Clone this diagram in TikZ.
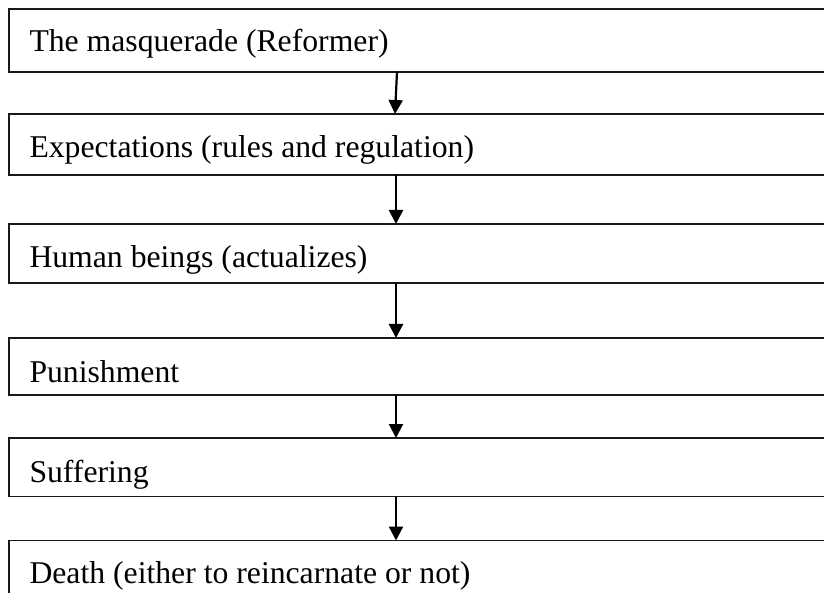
\documentclass[tikz,border=0pt]{standalone}
\usepackage{fontspec}
\setmainfont{Liberation Serif}
\usetikzlibrary{arrows.meta}
\begin{document}
\begin{tikzpicture}[x=1pt,y=-1pt,
  box/.style={draw=black!90, line width=1.3pt, rectangle, inner sep=0pt, outer sep=0pt, anchor=north west, minimum width=831pt},
  lbl/.style={inner sep=0pt, outer sep=0pt, anchor=base west, font=\fontsize{31.7pt}{38pt}\selectfont},
  arr/.style={line width=2.2pt, -{Triangle[width=14pt,length=14pt]}}]
\useasboundingbox (0,0) rectangle (824,593);
\clip (0,0) rectangle (824,593);
\node[box, minimum height=63pt] (b1) at (9,9) {};
\node[box, minimum height=61pt] (b2) at (9,114) {};
\node[box, minimum height=59pt] (b3) at (9,224) {};
\node[box, minimum height=57pt] (b4) at (9,338) {};
\node[box, minimum height=58.5pt] (b5) at (9,438) {};
\node[box, minimum height=80pt] (b6) at (9,540.5) {};
\node[lbl] (t1) at (29.5,52) {The masquerade (Reformer)};
\node[lbl] (t2) at (29.5,158) {Expectations (rules and regulation)};
\node[lbl] (t3) at (29.5,268) {Human beings (actualizes)};
\node[lbl] (t4) at (29.5,382) {Punishment};
\node[lbl] (t5) at (29.5,482) {Suffering};
\node[lbl] (t6) at (29.5,583) {Death (either to reincarnate or not)};
\coordinate (xa) at (397,0);
\coordinate (xb) at (395,0);
\coordinate (xc) at (396,0);
\draw[arr] (xa |- b1.south) -- (xb |- b2.north);
\draw[arr] (xc |- b2.south) -- (xc |- b3.north);
\draw[arr] (xc |- b3.south) -- (xc |- b4.north);
\draw[arr] (xc |- b4.south) -- (xc |- b5.north);
\draw[arr] (xc |- b5.south) -- (xc |- b6.north);
\end{tikzpicture}
\end{document}
